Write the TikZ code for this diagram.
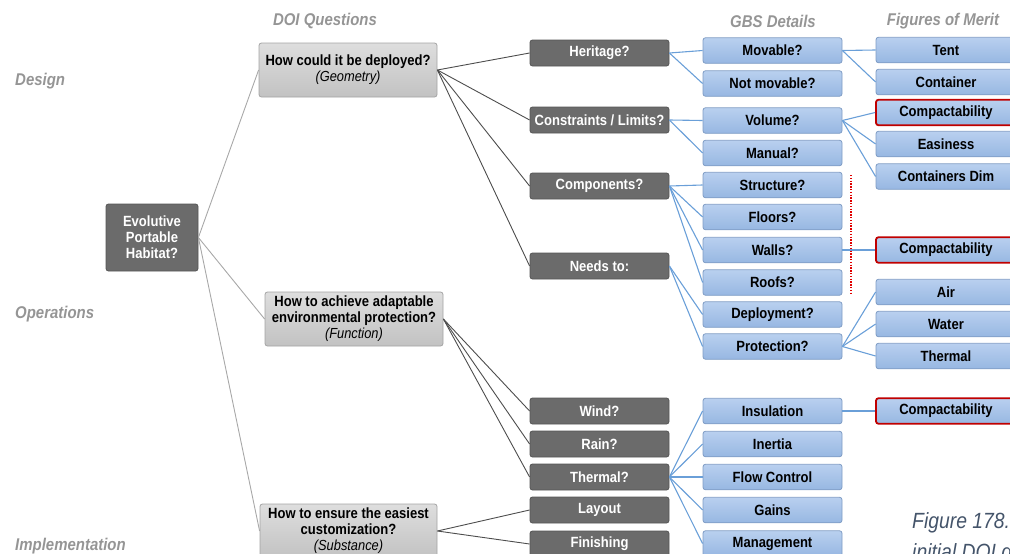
\documentclass[tikz,border=0pt]{standalone}
\usepackage{fontspec}
\setmainfont{Liberation Sans}[FakeStretch=0.88]
\definecolor{dkfill}{HTML}{6B6B6B}
\definecolor{dkdraw}{HTML}{555555}
\definecolor{bltop}{HTML}{B9D0EF}
\definecolor{blbot}{HTML}{97B7E2}
\definecolor{bldraw}{HTML}{7F9CC4}
\definecolor{qtop}{HTML}{DEDEDE}
\definecolor{qbot}{HTML}{C2C2C2}
\definecolor{qdraw}{HTML}{A3A3A3}
\definecolor{redb}{HTML}{C00000}
\definecolor{hdgrey}{HTML}{959595}
\definecolor{capcol}{HTML}{44546A}
\definecolor{blline}{HTML}{6A9FD8}
\definecolor{dkline}{HTML}{4D4D4D}
\definecolor{rtline}{HTML}{A8A8A8}
\definecolor{dotred}{HTML}{E00000}
\tikzset{
  base/.style={rounded corners=2.5pt, inner sep=0pt, align=center,
    font=\fontsize{14.8}{16}\selectfont\bfseries, line width=0.8pt},
  dk/.style={base, fill=dkfill, draw=dkdraw, text=white, minimum width=139pt, minimum height=26pt},
  bl/.style={base, top color=bltop, bottom color=blbot, draw=bldraw, minimum width=139pt, minimum height=25.5pt},
  fm/.style={bl, minimum width=140pt},
  rd/.style={fm, draw=redb, line width=1.8pt},
  qn/.style={base, top color=qtop, bottom color=qbot, draw=qdraw, minimum width=178pt, minimum height=54pt},
  hd/.style={font=\fontsize{17}{18}\selectfont\bfseries\itshape, text=hdgrey, inner sep=0pt},
  rtln/.style={draw=rtline, line width=0.9pt},
  dkln/.style={draw=dkline, line width=0.9pt},
  blln/.style={draw=blline, line width=1.1pt},
  dotln/.style={draw=dotred, line width=2pt, dash pattern=on 1.4pt off 1.4pt},
}
\newcommand{\subtxt}[1]{{\fontsize{14.6}{16}\selectfont\mdseries\itshape #1}}
\begin{document}
\begin{tikzpicture}[x=1pt,y=-1pt]
\useasboundingbox (0,0) rectangle (1010,554);
\clip (0,0) rectangle (1010,554);
% headers
\node[hd] (hdoi) at (325,21) {DOI Questions};
\node[hd] (hgbs) at (773,21) {GBS Details};
\node[hd] (hfom) at (943,21) {Figures of Merit};
\node[hd, anchor=west] (ldes) at (15,81) {Design};
\node[hd, anchor=west] (lops) at (15,314) {Operations};
\node[hd, anchor=west] (limp) at (15,546) {Implementation};
% root
\node[base, fill=dkfill, draw=dkdraw, text=white, minimum width=92pt, minimum height=67pt] (root) at (152,237.5) {Evolutive\\Portable\\Habitat?};
% questions
\node[qn] (q1) at (348,70) {How could it be deployed?\\\subtxt{(Geometry)}};
\node[qn] (q2) at (354,319) {How to achieve adaptable\\environmental protection?\\\subtxt{(Function)}};
\node[qn, minimum width=177pt] (q3) at (348.5,531) {How to ensure the easiest\\customization?\\\subtxt{(Substance)}};
% dark level
\node[dk] (her) at (599.5,53) {Heritage?};
\node[dk] (con) at (599.5,120) {Constraints / Limits?};
\node[dk] (com) at (599.5,186) {Components?};
\node[dk] (nee) at (599.5,266) {Needs to:};
\node[dk] (win) at (599.5,411) {Wind?};
\node[dk] (rai) at (599.5,444) {Rain?};
\node[dk] (the) at (599.5,477) {Thermal?};
\node[dk] (lay) at (599.5,510) {Layout};
\node[dk] (fin) at (599.5,544) {Finishing};
% GBS details
\node[bl] (mov) at (772.5,50.5) {Movable?};
\node[bl] (nmo) at (772.5,83.5) {Not movable?};
\node[bl] (vol) at (772.5,120.5) {Volume?};
\node[bl] (man) at (772.5,153) {Manual?};
\node[bl] (str) at (772.5,185) {Structure?};
\node[bl] (flo) at (772.5,217) {Floors?};
\node[bl] (wal) at (772.5,250) {Walls?};
\node[bl] (roo) at (772.5,282.5) {Roofs?};
\node[bl] (dep) at (772.5,314.5) {Deployment?};
\node[bl] (pro) at (772.5,346.5) {Protection?};
\node[bl] (ins) at (772.5,411) {Insulation};
\node[bl] (ine) at (772.5,444) {Inertia};
\node[bl] (flc) at (772.5,477) {Flow Control};
\node[bl] (gai) at (772.5,510) {Gains};
\node[bl] (mgt) at (772.5,543.5) {Management};
% figures of merit
\node[fm] (ten) at (946,50) {Tent};
\node[fm] (ctr) at (946,82) {Container};
\node[rd] (cp1) at (946,112.5) {Compactability};
\node[fm] (eas) at (946,144) {Easiness};
\node[fm] (cdi) at (946,176.5) {Containers Dim};
\node[rd] (cp2) at (946,250) {Compactability};
\node[fm] (air) at (946,292) {Air};
\node[fm] (wat) at (946,324) {Water};
\node[fm] (thm) at (946,356) {Thermal};
\node[rd] (cp3) at (946,411) {Compactability};
% caption
\node[anchor=base west, inner sep=0pt, font=\fontsize{22}{24}\selectfont\itshape, text=capcol] (cap1) at (912,528) {Figure 178.};
\node[anchor=base west, inner sep=0pt, font=\fontsize{22}{24}\selectfont\itshape, text=capcol] (cap2) at (912,559) {initial DOI questions};
% connectors root
\draw[rtln] (root.east) -- (q1.west);
\draw[rtln] (root.east) -- (q2.west);
\draw[rtln] (root.east) -- (q3.west);
% question connectors
\foreach \t in {her,con,com,nee} \draw[dkln] (q1.east) -- (\t.west);
\foreach \t in {win,rai,the} \draw[dkln] (q2.east) -- (\t.west);
\foreach \t in {lay,fin} \draw[dkln] (q3.east) -- (\t.west);
% blue connectors
\foreach \t in {mov,nmo} \draw[blln] (her.east) -- (\t.west);
\foreach \t in {vol,man} \draw[blln] (con.east) -- (\t.west);
\foreach \t in {str,flo,wal,roo} \draw[blln] (com.east) -- (\t.west);
\foreach \t in {dep,pro} \draw[blln] (nee.east) -- (\t.west);
\foreach \t in {ins,ine,flc,gai,mgt} \draw[blln] (the.east) -- (\t.west);
\foreach \t in {ten,ctr} \draw[blln] (mov.east) -- (\t.west);
\foreach \t in {cp1,eas,cdi} \draw[blln] (vol.east) -- (\t.west);
\draw[blln] (wal.east) -- (cp2.west);
\foreach \t in {air,wat,thm} \draw[blln] (pro.east) -- (\t.west);
\draw[blln] (ins.east) -- (cp3.west);
% red dotted marker
\coordinate (dtop) at (851,175);
\coordinate (dbot) at (851,295);
\draw[dotln] (dtop) -- (dbot);
\end{tikzpicture}
\end{document}
